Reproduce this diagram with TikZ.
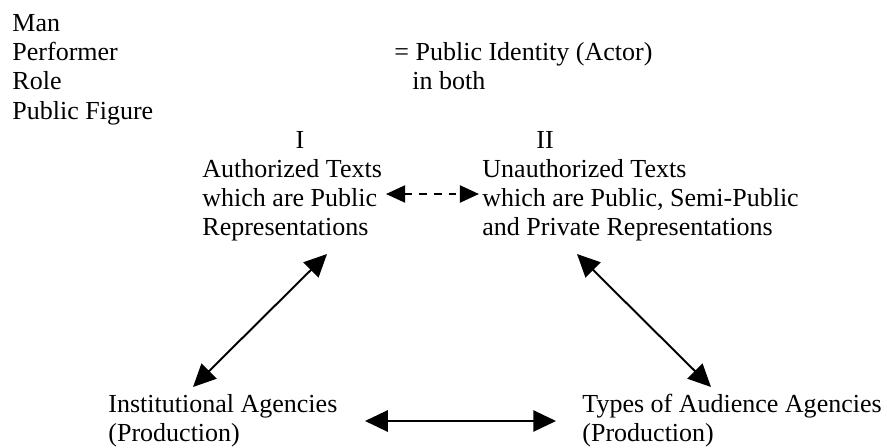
\documentclass[tikz,border=0pt]{standalone}
\usepackage{fontspec}
\setmainfont{Liberation Serif}
\usepackage{tikz}
\usetikzlibrary{arrows.meta}

\begin{document}
\begin{tikzpicture}[x=0.4615pt,y=-0.4615pt]
\tikzstyle{every node}+=[inner sep=0pt]
\tikzstyle{txtblock}=[anchor=north west,align=left,font=\fontsize{12}{13.5}\selectfont]
\tikzstyle{numeral}=[anchor=base,font=\fontsize{12}{13.5}\selectfont]
\tikzstyle{twoway}=[line width=0.9pt,{Triangle[length=10.5pt,width=9.8pt]}-{Triangle[length=10.5pt,width=9.8pt]}]
\tikzstyle{dashway}=[line width=1.1pt,dash pattern=on 3.6pt off 3.2pt,{Triangle[length=8.8pt,width=7.8pt]}-{Triangle[length=8.8pt,width=7.8pt]}]
\useasboundingbox (0,0) rectangle (887,447);
% text blocks (top = first baseline - 20.5)
\node[txtblock] (roles) at (12,10.5) {\strut Man\\Performer\\Role\\Public Figure};
\node[txtblock] (identity) at (394,39.5) {\strut= Public Identity (Actor)\\\hspace*{8.3pt}in both};
\node[numeral] (numI) at (300,148) {I};
\node[numeral] (numII) at (545,148) {II};
\node[txtblock] (auth) at (202,156.5) {\strut Authorized Texts\\which are Public\\Representations};
\node[txtblock] (unauth) at (482,156.5) {\strut Unauthorized Texts\\which are Public, Semi-Public\\and Private Representations};
\node[txtblock] (inst) at (108,391.5) {\strut Institutional Agencies\\(Production)};
\node[txtblock] (aud) at (582,391.5) {\strut Types of Audience Agencies\\(Production)};
% arrow ends
\coordinate (authE) at (386,194);
\coordinate (unauthW) at (479,194);
\coordinate (authS) at (327,254);
\coordinate (instN) at (193,387);
\coordinate (unauthS) at (577,254);
\coordinate (audN) at (711,387);
\coordinate (instE) at (365,421);
\coordinate (audW) at (556,421);
% connectors
\draw[dashway] (authE) -- (unauthW);
\draw[twoway] (authS) -- (instN);
\draw[twoway] (unauthS) -- (audN);
\draw[twoway] (instE) -- (audW);
\end{tikzpicture}
\end{document}
